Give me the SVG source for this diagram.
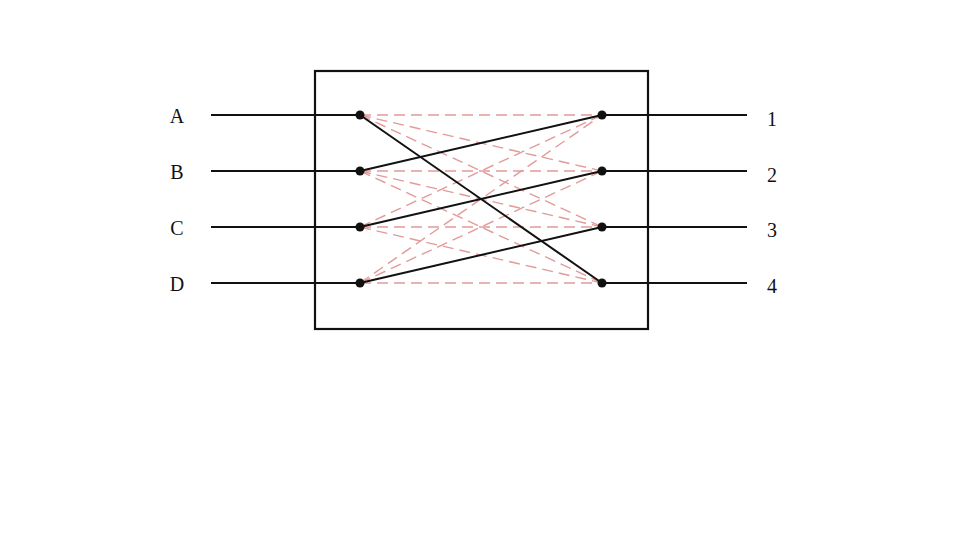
<svg xmlns="http://www.w3.org/2000/svg" width="963" height="541" viewBox="0 0 963 541">
<style>
.lbl{font-family:"Liberation Serif","Times New Roman",serif;font-size:20px;fill:#111}
.wire{stroke:#111;stroke-width:2;fill:none}
.dash{stroke:#e39a9a;stroke-width:1.4;stroke-dasharray:11 6;fill:none}
.dot{fill:#111}
</style>
<rect width="963" height="541" fill="#fff"/>
<g id="box"><rect x="315" y="71" width="333" height="258" fill="none" stroke="#111" stroke-width="2.2"/></g>
<g id="connectors">
<g class="dash">
<line x1="360" y1="115" x2="602" y2="115"/>
<line x1="360" y1="115" x2="602" y2="171"/>
<line x1="360" y1="115" x2="602" y2="227"/>
<line x1="360" y1="171" x2="602" y2="171"/>
<line x1="360" y1="171" x2="602" y2="227"/>
<line x1="360" y1="171" x2="602" y2="283"/>
<line x1="360" y1="227" x2="602" y2="115"/>
<line x1="360" y1="227" x2="602" y2="227"/>
<line x1="360" y1="227" x2="602" y2="283"/>
<line x1="360" y1="283" x2="602" y2="115"/>
<line x1="360" y1="283" x2="602" y2="171"/>
<line x1="360" y1="283" x2="602" y2="283"/>
</g>
<g class="wire">
<line x1="211" y1="115" x2="360" y2="115"/>
<line x1="211" y1="171" x2="360" y2="171"/>
<line x1="211" y1="227" x2="360" y2="227"/>
<line x1="211" y1="283" x2="360" y2="283"/>
<line x1="602" y1="115" x2="747" y2="115"/>
<line x1="602" y1="171" x2="747" y2="171"/>
<line x1="602" y1="227" x2="747" y2="227"/>
<line x1="602" y1="283" x2="747" y2="283"/>
<line x1="360" y1="115" x2="602" y2="283"/>
<line x1="360" y1="171" x2="602" y2="115"/>
<line x1="360" y1="227" x2="602" y2="171"/>
<line x1="360" y1="283" x2="602" y2="227"/>
</g>
</g>
<g id="in-A"><circle class="dot" cx="360" cy="115" r="4.5"/><text class="lbl" x="177" y="123" text-anchor="middle">A</text></g>
<g id="in-B"><circle class="dot" cx="360" cy="171" r="4.5"/><text class="lbl" x="177" y="179" text-anchor="middle">B</text></g>
<g id="in-C"><circle class="dot" cx="360" cy="227" r="4.5"/><text class="lbl" x="177" y="235" text-anchor="middle">C</text></g>
<g id="in-D"><circle class="dot" cx="360" cy="283" r="4.5"/><text class="lbl" x="177" y="291" text-anchor="middle">D</text></g>
<g id="out-1"><circle class="dot" cx="602" cy="115" r="4.5"/><text class="lbl" x="772" y="126" text-anchor="middle">1</text></g>
<g id="out-2"><circle class="dot" cx="602" cy="171" r="4.5"/><text class="lbl" x="772" y="182" text-anchor="middle">2</text></g>
<g id="out-3"><circle class="dot" cx="602" cy="227" r="4.5"/><text class="lbl" x="772" y="237" text-anchor="middle">3</text></g>
<g id="out-4"><circle class="dot" cx="602" cy="283" r="4.5"/><text class="lbl" x="772" y="293" text-anchor="middle">4</text></g>
</svg>
